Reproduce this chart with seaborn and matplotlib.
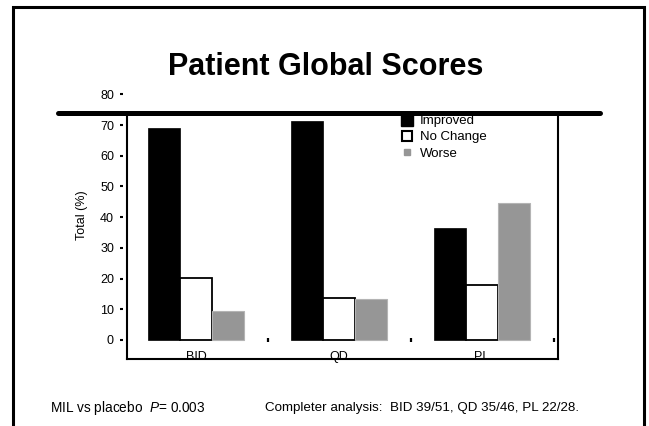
import matplotlib
matplotlib.use("Agg")
import matplotlib.pyplot as plt
import matplotlib.transforms as mtransforms
from matplotlib.lines import Line2D
from matplotlib.patches import Rectangle
import pandas as pd
import seaborn as sns

# Patient global scores (% of patients) per treatment arm
groups = ["BID", "QD", "PL"]
responses = ["Improved", "No Change", "Worse"]
improved = [69.2, 71.2, 36.4]
no_change = [20.3, 13.6, 17.9]
worse = [9.6, 13.3, 44.6]
y_ticks = [0, 10, 20, 30, 40, 50, 60, 70, 80]

title = "Patient Global Scores"
y_label = "Total (%)"
footer_left = "MIL vs placebo  $P$= 0.003"
footer_right = "Completer analysis:  BID 39/51, QD 35/46, PL 22/28."

df = pd.DataFrame({
    "group": groups * 3,
    "response": [r for r in responses for _ in groups],
    "pct": improved + no_change + worse,
})

sns.set_style("white")
plt.rcParams["font.family"] = ["Liberation Sans", "DejaVu Sans"]
plt.rcParams["mathtext.fontset"] = "custom"
plt.rcParams["mathtext.rm"] = "Liberation Sans"
plt.rcParams["mathtext.it"] = "Liberation Sans:italic"
for key in ["text.color", "axes.labelcolor", "xtick.color", "ytick.color",
            "xtick.labelcolor", "ytick.labelcolor"]:
    plt.rcParams[key] = "black"

W, H = 649, 426
fig = plt.figure(figsize=(W / 100, H / 100), dpi=100)
fig.patch.set_facecolor("white")

ax_left, ax_right, ax_bottom_px = 127, 558, 359
y_min, y_max = -6.19, 82.0
top_px = 340 - y_max * 3.07
ax = fig.add_axes([ax_left / W, (H - ax_bottom_px) / H,
                   (ax_right - ax_left) / W, (ax_bottom_px - top_px) / H])

fill = {"Improved": "black", "No Change": "white", "Worse": "#969696"}
edge = {"Improved": "black", "No Change": "black", "Worse": "#b4b4b4"}
edge_w = {"Improved": 0.5, "No Change": 1.3, "Worse": 0.8}

sns.barplot(data=df, x="group", y="pct", hue="response", hue_order=responses,
            order=groups, palette=fill, saturation=1, width=0.67,
            legend=False, ax=ax)
for cont, resp in zip(ax.containers, responses):
    for bar in cont:
        bar.set_edgecolor(edge[resp])
        bar.set_linewidth(edge_w[resp])

ax.set_xlim(-0.483, 2.531)
ax.set_ylim(y_min, y_max)
ax.set_xlabel("")
ax.set_ylabel("")
ax.set_facecolor("none")
ax.grid(False)

for s in ax.spines.values():
    s.set_visible(False)
ax.spines["left"].set_position(("outward", 2.9))
ax.spines["bottom"].set_position(("data", 0))

ax.set_yticks(y_ticks)
ax.tick_params(axis="y", which="major", left=True, direction="out", length=2.2,
               width=1.5, pad=4.3, labelsize=9, color="black",
               labelcolor="black")
ax.set_xticks(range(len(groups)), groups)
ax.tick_params(axis="x", which="major", bottom=True, length=0, pad=7.6,
               labelsize=9, labelcolor="black")
ax.set_xticks([0.5, 1.5, 2.5], minor=True)
ax.tick_params(axis="x", which="minor", bottom=True, direction="inout",
               length=3, width=1.6, color="black")

# Plot frame: left, right and bottom rules, with a heavy rule on top
box_top = 73.8
trans = mtransforms.blended_transform_factory(ax.transAxes, ax.transData)
for xs, ys in [([0, 0], [y_min, box_top]), ([1, 1], [y_min, box_top]),
               ([0, 1], [y_min, y_min])]:
    ax.add_line(Line2D(xs, ys, transform=trans, color="black", lw=1.5,
                       clip_on=False, zorder=5, solid_capstyle="projecting"))
ftrans = mtransforms.blended_transform_factory(fig.transFigure, ax.transData)
ax.add_line(Line2D([58 / W, 600 / W], [box_top, box_top], transform=ftrans,
                   color="black", lw=3.6, clip_on=False, zorder=6))

# Outer slide border
fig.add_artist(Rectangle((13 / W, -0.05), (644 - 13) / W, 1 - 6.5 / H + 0.05,
                         transform=fig.transFigure, fill=False,
                         edgecolor="black", lw=2.2))

fig.text(326 / W, 1 - 67 / H, title, ha="center", va="center",
         fontsize=22, fontweight="bold", color="black")
fig.text(82 / W, 1 - 215 / H, y_label, rotation=90, ha="center",
         va="center", fontsize=9, color="black")

handles = [
    Line2D([], [], marker="s", ls="none", ms=8, mfc="black", mec="black"),
    Line2D([], [], marker="s", ls="none", ms=7.5, mfc="white", mec="black",
           mew=1.5),
    Line2D([], [], marker="s", ls="none", ms=4.5, mfc="#969696",
           mec="#969696"),
]
fig.legend(handles, responses, loc="upper left",
           bbox_to_anchor=(400.4 / W, 1 - 115 / H), frameon=False,
           borderpad=0, borderaxespad=0, handlelength=1, handletextpad=0.48,
           labelspacing=0.3, fontsize=9.5, labelcolor="black")

fig.text(50 / W, 1 - 408 / H, footer_left, va="center", fontsize=9.8,
         color="black")
fig.text(265 / W, 1 - 408 / H, footer_right, va="center", fontsize=9.6,
         color="black")

fig.savefig("out.png", dpi=100, facecolor="white")
